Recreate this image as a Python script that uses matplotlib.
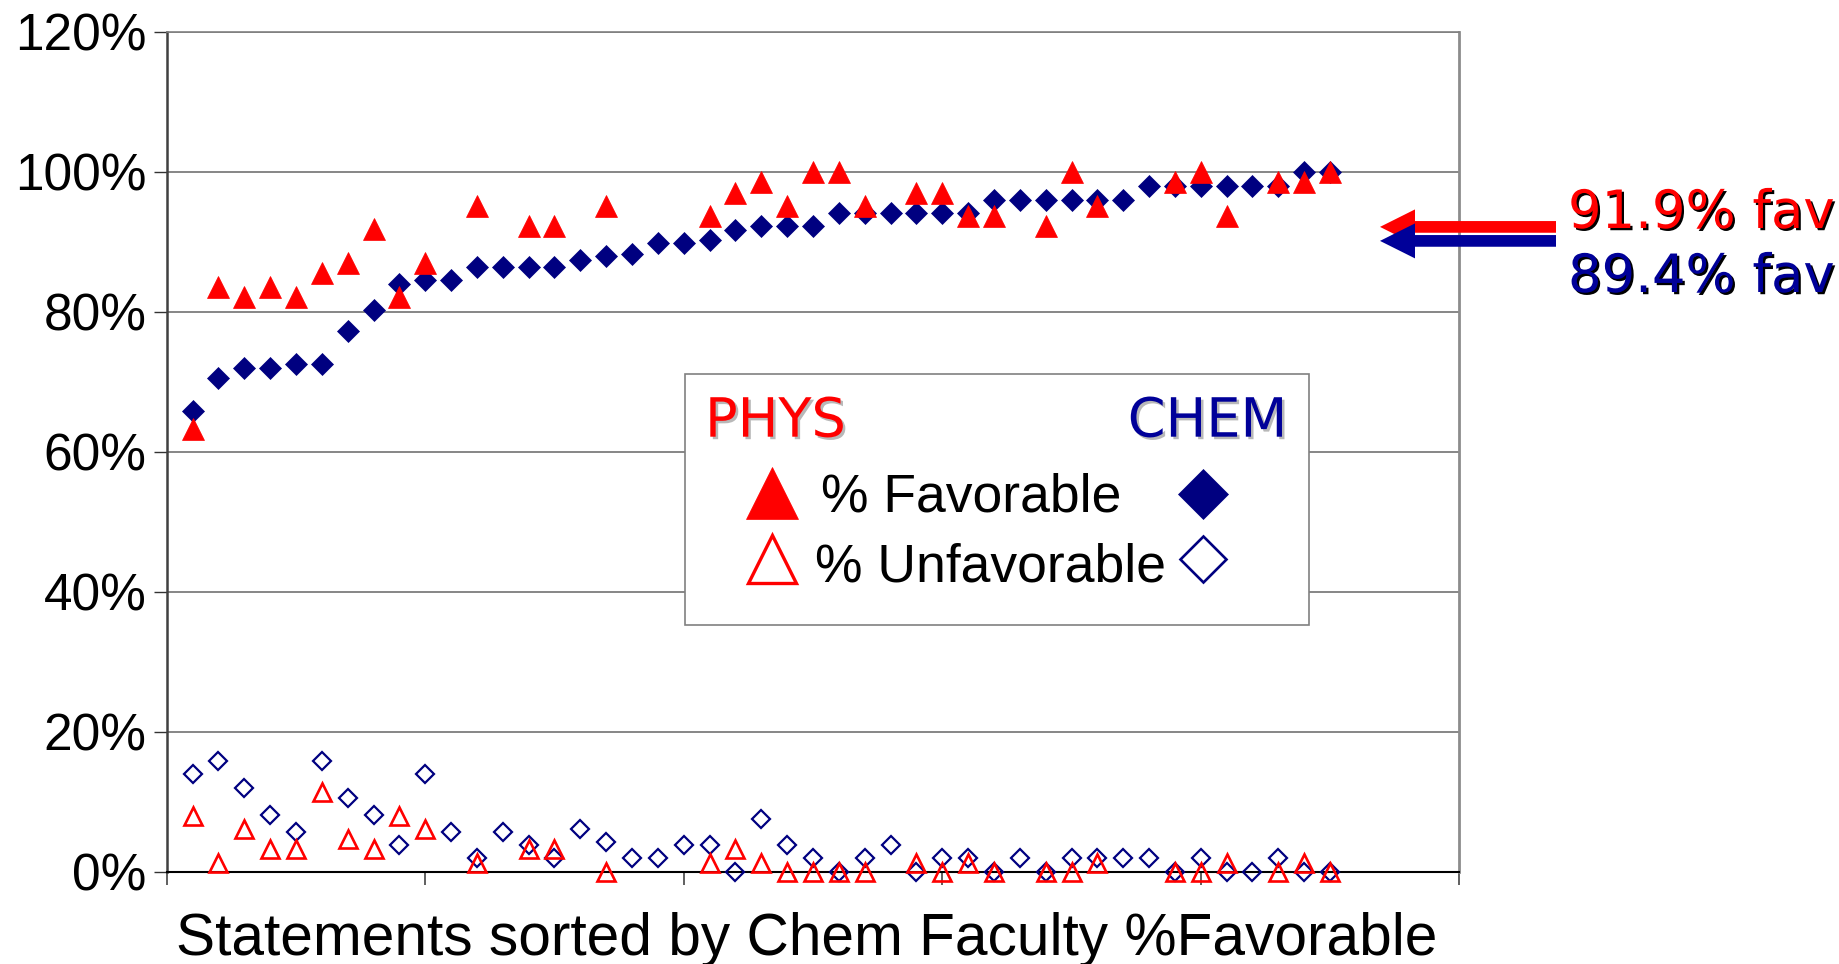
import numpy as np
import matplotlib
matplotlib.use('Agg')
import matplotlib.pyplot as plt
from matplotlib.lines import Line2D
from matplotlib.patches import Rectangle, FancyArrow
import matplotlib.patheffects as pe

nan = np.nan

# ---------------- data ----------------
statements = list(range(1, 46))

chem_fav = [65.8, 70.5, 72.0, 72.0, 72.5, 72.5, 77.3, 80.2, 84.0, 84.5,
            84.5, 86.4, 86.4, 86.4, 86.4, 87.4, 87.9, 88.3, 89.8, 89.8,
            90.3, 91.7, 92.2, 92.2, 92.2, 94.1, 94.1, 94.1, 94.1, 94.1,
            94.1, 96.0, 96.0, 96.0, 96.0, 96.0, 96.0, 98.0, 98.0, 98.0,
            98.0, 98.0, 98.0, 100.0, 100.0]

chem_unfav = [13.9, 15.8, 11.9, 8.1, 5.7, 15.8, 10.5, 8.1, 3.8, 13.9,
              5.7, 1.9, 5.7, 3.8, 1.9, 6.1, 4.2, 1.9, 1.9, 3.8,
              3.8, 0.0, 7.6, 3.8, 1.9, 0.0, 1.9, 3.8, 0.0, 1.9,
              1.9, 0.0, 1.9, 0.0, 1.9, 1.9, 1.9, 1.9, 0.0, 1.9,
              0.0, 0.0, 1.9, 0.0, 0.0]

phys_fav = [63.3, 83.5, 82.1, 83.5, 82.1, 85.5, 86.9, 91.8, 82.1, 86.9,
            nan, 95.1, nan, 92.2, 92.2, nan, 95.1, nan, nan, nan,
            93.7, 97.0, 98.5, 95.1, 100.0, 100.0, 95.1, nan, 97.0, 97.0,
            93.7, 93.7, nan, 92.2, 100.0, 95.1, nan, nan, 98.5, 100.0,
            93.7, nan, 98.5, 98.5, 100.0]

phys_unfav = [8.0, 1.3, 6.1, 3.2, 3.2, 11.4, 4.7, 3.2, 8.0, 6.1,
              nan, 1.3, nan, 3.2, 3.2, nan, 0.0, nan, nan, nan,
              1.3, 3.2, 1.3, 0.0, 0.0, 0.0, 0.0, nan, 1.3, 0.0,
              1.3, 0.0, nan, 0.0, 0.0, 1.3, nan, nan, 0.0, 0.0,
              1.3, nan, 0.0, 1.3, 0.0]

y_ticks = [0, 20, 40, 60, 80, 100, 120]
y_tick_labels = ['0%', '20%', '40%', '60%', '80%', '100%', '120%']
x_ticks = [0, 10, 20, 30, 40, 50]
x_label = 'Statements sorted by Chem Faculty %Favorable'
legend_phys = 'PHYS'
legend_chem = 'CHEM'
legend_fav = '% Favorable'
legend_unfav = '% Unfavorable'
phys_avg_label = '91.9% fav'
chem_avg_label = '89.4% fav'

RED = '#FF0000'
NAVY = '#000080'
BLUE_TXT = '#000099'

ARIAL = ['Liberation Sans', 'DejaVu Sans']
TAHOMA = ['DejaVu Sans']

# ---------------- figure ----------------
W, H, DPI = 1839, 964, 100
fig = plt.figure(figsize=(W / DPI, H / DPI), dpi=DPI)
fig.patch.set_facecolor('white')


def fx(x):
    return x / W


def fy(y):
    return 1 - y / H


ax_l, ax_r, ax_t, ax_b = 166.7, 1459.3, 31.7, 871.7
ax = fig.add_axes([fx(ax_l), fy(ax_b), (ax_r - ax_l) / W, (ax_b - ax_t) / H])
ax.set_facecolor('white')

# data series (CHEM first so PHYS sits on top)
ax.plot(statements, chem_fav, linestyle='none', marker='D', ms=11.2,
        mfc=NAVY, mec=NAVY, mew=0.5, zorder=3, clip_on=False)
ax.plot(statements, chem_unfav, linestyle='none', marker='D', ms=9.1,
        mfc='none', mec=NAVY, mew=1.6, zorder=3, clip_on=False)
ax.plot(statements, phys_fav, linestyle='none', marker='^', ms=15.5,
        mfc=RED, mec=RED, mew=0.5, zorder=4, clip_on=False)
ax.plot(statements, phys_unfav, linestyle='none', marker='^', ms=12.5,
        mfc='none', mec=RED, mew=1.9, zorder=4, clip_on=False)

ax.set_xlim(0, 50)
ax.set_ylim(0, 120)
ax.set_xticks(x_ticks)
ax.set_yticks(y_ticks)
ax.set_yticklabels(y_tick_labels, fontfamily=ARIAL, fontsize=37)
ax.tick_params(axis='y', direction='out', length=9.5, width=1.0,
               color='#333333', pad=5)
ax.tick_params(axis='x', direction='out', length=9.5, width=1.2,
               color='#444444', labelbottom=False)
ax.yaxis.grid(True, color='#666666', lw=1.1)
ax.set_axisbelow(True)

ax.spines['left'].set_color('#404040')
ax.spines['left'].set_linewidth(1.8)
ax.spines['right'].set_color('#8c8c8c')
ax.spines['right'].set_linewidth(2.0)
ax.spines['top'].set_color('#808080')
ax.spines['top'].set_linewidth(1.2)
ax.spines['bottom'].set_color('#000000')
ax.spines['bottom'].set_linewidth(1.5)

# x label
fig.text(fx(176), fy(955), x_label, fontfamily=ARIAL,
         fontsize=42.2, ha='left', va='baseline', color='black')

# ---------------- custom legend box ----------------
box = Rectangle((fx(685), fy(625)), (1309 - 685) / W, (625 - 374.3) / H,
                transform=fig.transFigure, facecolor='white',
                edgecolor='#808080', lw=1.2, zorder=5)
fig.add_artist(box)

light_shadow = [pe.withSimplePatchShadow(offset=(1.8, -1.8),
                                         shadow_rgbFace='#b8b8b8', alpha=1.0)]
fig.text(fx(705), fy(436.7), legend_phys, fontfamily=TAHOMA, fontsize=39,
         color=RED, ha='left', va='baseline', zorder=6, path_effects=light_shadow)
fig.text(fx(1287), fy(436.7), legend_chem, fontfamily=TAHOMA, fontsize=39,
         color=BLUE_TXT, ha='right', va='baseline', zorder=6, path_effects=light_shadow)

fig.text(fx(820.6), fy(511.7), legend_fav, fontfamily=ARIAL,
         fontsize=38.5, color='black', ha='left', va='baseline', zorder=6)
fig.text(fx(814.6), fy(581.7), legend_unfav, fontfamily=ARIAL,
         fontsize=38.5, color='black', ha='left', va='baseline', zorder=6)

fig.add_artist(Line2D([fx(771.7)], [fy(493.3)], transform=fig.transFigure,
                      linestyle='none', marker='^',
                      ms=37.5, mfc=RED, mec=RED, mew=0.5, zorder=6))
fig.add_artist(Line2D([fx(772)], [fy(558.5)], transform=fig.transFigure,
                      linestyle='none', marker='^',
                      ms=34, mfc='white', mec=RED, mew=2.4, zorder=6))
fig.add_artist(Line2D([fx(1202.7)], [fy(494.5)], transform=fig.transFigure,
                      linestyle='none', marker='D',
                      ms=25.5, mfc=NAVY, mec=NAVY, mew=0.5, zorder=6))
fig.add_artist(Line2D([fx(1203)], [fy(559)], transform=fig.transFigure,
                      linestyle='none', marker='D',
                      ms=23.5, mfc='white', mec=NAVY, mew=1.9, zorder=6))

# ---------------- average arrows + labels ----------------
def px_arrow(tail_x, tip_x, yc, color):
    arr = FancyArrow(tail_x / DPI, (H - yc) / DPI, -(tail_x - tip_x) / DPI, 0,
                     width=11.7 / DPI, head_width=35 / DPI, head_length=35 / DPI,
                     length_includes_head=True, transform=fig.dpi_scale_trans,
                     facecolor=color, edgecolor='none', zorder=7)
    fig.add_artist(arr)


px_arrow(1556, 1380, 226.9, RED)
px_arrow(1556, 1380, 240.9, BLUE_TXT)

dark_shadow = [pe.withSimplePatchShadow(offset=(1.6, -1.6),
                                        shadow_rgbFace='#000000', alpha=1.0)]
fig.text(fx(1568), fy(228), phys_avg_label, fontfamily=TAHOMA, fontsize=38,
         color=RED, ha='left', va='baseline', zorder=8, path_effects=dark_shadow)
fig.text(fx(1568), fy(292), chem_avg_label, fontfamily=TAHOMA, fontsize=38,
         color=BLUE_TXT, ha='left', va='baseline', zorder=8, path_effects=dark_shadow)

fig.savefig('out.png', dpi=DPI, facecolor='white')
